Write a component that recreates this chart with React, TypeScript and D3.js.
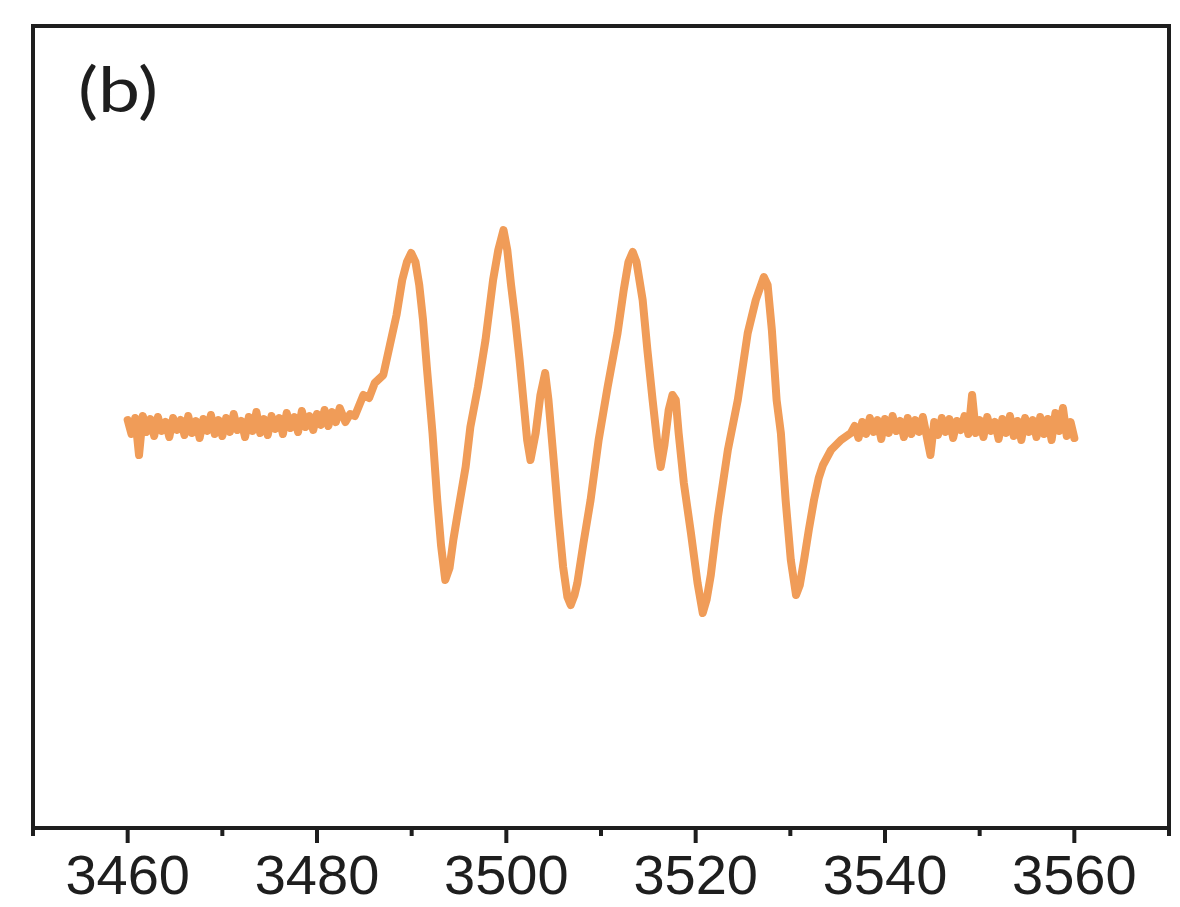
import React from "react";
import * as d3 from "d3";

// Magnetic field (G) and EPR intensity (a.u.)
const leftBaseline: [number, number][] = [
  [3460.0, 8], [3460.4, -6], [3460.8, 10], [3461.2, -27], [3461.6, 12], [3462.0, -4],
  [3462.4, 9], [3462.8, -8], [3463.2, 11], [3463.6, -3], [3464.0, 6], [3464.4, -9],
  [3464.8, 10], [3465.2, -2], [3465.6, 8], [3466.0, -7], [3466.4, 12], [3466.8, -5],
  [3467.2, 7], [3467.6, -10], [3468.0, 9], [3468.4, -3], [3468.8, 13], [3469.2, -6],
  [3469.6, 8], [3470.0, -8], [3470.4, 10], [3470.8, -4], [3471.2, 14], [3471.6, -2],
  [3472.0, 7], [3472.4, -9], [3472.8, 11], [3473.2, -3], [3473.6, 16], [3474.0, -5],
  [3474.4, 9], [3474.8, -7], [3475.2, 12], [3475.6, -1], [3476.0, 10], [3476.4, -6],
  [3476.8, 15], [3477.2, 0], [3477.6, 11], [3478.0, -4], [3478.4, 17], [3478.8, 1],
  [3479.2, 12], [3479.6, -2], [3480.0, 14], [3480.4, 3], [3480.8, 18], [3481.2, 2],
  [3481.6, 16], [3482.0, 6], [3482.4, 20],
];

const signal: [number, number][] = [
  [3483.0, 6], [3483.5, 14], [3484.0, 12], [3484.9, 33], [3485.5, 30], [3486.1, 45],
  [3487.0, 53], [3487.7, 83], [3488.4, 113], [3489.0, 148], [3489.5, 166], [3489.95, 175],
  [3490.4, 166], [3490.8, 143], [3491.2, 108], [3491.6, 61], [3492.2, -5], [3492.7, -72],
  [3493.1, -117], [3493.55, -152], [3494.0, -140], [3494.4, -112], [3494.8, -89],
  [3495.7, -39], [3496.2, 1], [3497.0, 41], [3497.8, 88], [3498.6, 148], [3499.15, 178],
  [3499.7, 198], [3500.1, 178], [3500.5, 143], [3500.95, 108], [3501.4, 68], [3501.8, 28],
  [3502.2, -12], [3502.55, -32], [3503.1, -5], [3503.6, 33], [3504.1, 55], [3504.45, 28],
  [3505.0, -32], [3505.5, -89], [3506.0, -139], [3506.45, -169], [3506.8, -177],
  [3507.2, -167], [3507.5, -155], [3508.15, -115], [3508.9, -72], [3509.75, -12],
  [3510.7, 41], [3511.75, 95], [3512.4, 138], [3512.9, 166], [3513.35, 176], [3513.75, 166],
  [3514.4, 128], [3514.9, 78], [3515.45, 28], [3516.0, -19], [3516.3, -39], [3516.7, -17],
  [3517.15, 18], [3517.55, 33], [3517.9, 28], [3518.2, -5], [3518.75, -55], [3519.5, -105],
  [3520.2, -155], [3520.75, -185], [3521.15, -172], [3521.6, -147], [3522.35, -89],
  [3523.4, -22], [3524.45, 28], [3525.5, 95], [3526.35, 128], [3527.2, 151], [3527.6, 143],
  [3528.05, 98], [3528.55, 28], [3529.0, -5], [3529.5, -72], [3530.05, -132], [3530.6, -167],
  [3531.0, -157], [3531.45, -132], [3531.95, -102], [3532.5, -72], [3533.0, -50],
  [3533.45, -37], [3534.3, -22], [3535.35, -12], [3536.4, -5],
];

const rightBaseline: [number, number][] = [
  [3536.8, 2], [3537.2, -10], [3537.6, 6], [3538.0, -6], [3538.4, 10], [3538.8, -4],
  [3539.2, 8], [3539.6, -11], [3540.0, 9], [3540.4, -5], [3540.8, 12], [3541.2, -3],
  [3541.6, 7], [3542.0, -9], [3542.4, 10], [3542.8, -6], [3543.2, 8], [3543.6, -4],
  [3544.0, 11], [3544.4, -8], [3544.8, -27], [3545.2, 6], [3545.6, -7], [3546.0, 10],
  [3546.4, -4], [3546.8, 9], [3547.2, -10], [3547.6, 7], [3548.0, -2], [3548.4, 12],
  [3548.8, -6], [3549.2, 33], [3549.6, -5], [3550.0, 8], [3550.4, -9], [3550.8, 11],
  [3551.2, -3], [3551.6, 6], [3552.0, -11], [3552.4, 9], [3552.8, -5], [3553.2, 12],
  [3553.6, -8], [3554.0, 7], [3554.4, -12], [3554.8, 10], [3555.2, -4], [3555.6, 8],
  [3556.0, -9], [3556.4, 11], [3556.8, -6], [3557.2, 9], [3557.6, -12], [3558.0, 15],
  [3558.4, -3], [3558.8, 20], [3559.2, -8], [3559.6, 6], [3560.0, -10],
];

const majorTicks = [3460, 3480, 3500, 3520, 3540, 3560];
const minorTicks = [3450, 3470, 3490, 3510, 3530, 3550, 3570];
const panelLabel = "(b)";

const W = 1180;
const H = 907;
const M = { left: 33, right: 1169, top: 26, bottom: 828 };

export default function App() {
  const x = d3.scaleLinear().domain([3450, 3570]).range([M.left, M.right]);
  const y = d3.scaleLinear().domain([-400, 402]).range([M.bottom, M.top]);
  const data = [...leftBaseline, ...signal, ...rightBaseline];
  const line = d3
    .line<[number, number]>()
    .x((d) => x(d[0]))
    .y((d) => y(d[1]))
    .curve(d3.curveLinear);

  const font = "'Liberation Sans', Arial, sans-serif";

  return (
    <svg
      width={W}
      height={H}
      style={{ position: "absolute", left: 0, top: 0, background: "#fff" }}
    >
      <path
        d={line(data) || ""}
        fill="none"
        stroke="#F09C58"
        strokeWidth={8}
        strokeLinejoin="round"
        strokeLinecap="round"
      />
      <rect
        x={M.left}
        y={M.top}
        width={M.right - M.left}
        height={M.bottom - M.top}
        fill="none"
        stroke="#1e1e1e"
        strokeWidth={4}
      />
      {majorTicks.map((t) => (
        <g key={"M" + t}>
          <line x1={x(t)} x2={x(t)} y1={M.bottom} y2={M.bottom + 15} stroke="#1e1e1e" strokeWidth={4} />
          <text
            x={x(t)}
            y={M.bottom + 66}
            textAnchor="middle"
            fontFamily={font}
            fontSize={56}
            fill="#1e1e1e"
          >
            {t}
          </text>
        </g>
      ))}
      {minorTicks.map((t) => (
        <line key={"m" + t} x1={x(t)} x2={x(t)} y1={M.bottom} y2={M.bottom + 8} stroke="#1e1e1e" strokeWidth={4} />
      ))}
      <text
        x={78}
        y={112}
        fontFamily="Lato, 'Open Sans', sans-serif"
        fontSize={62}
        textLength={80}
        lengthAdjust="spacingAndGlyphs"
        fill="#1e1e1e"
      >
        {panelLabel}
      </text>
    </svg>
  );
}
